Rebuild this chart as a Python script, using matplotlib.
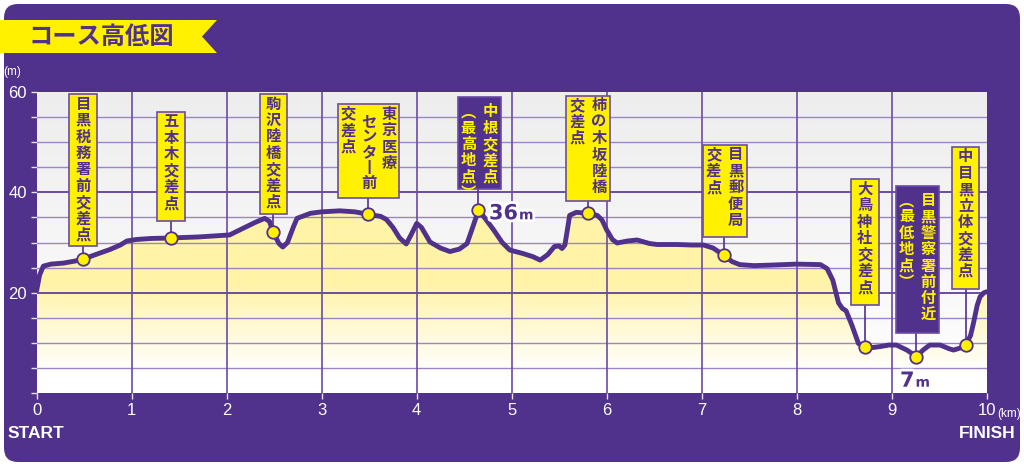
import numpy as np
import matplotlib
matplotlib.use("Agg")
import matplotlib.pyplot as plt
from matplotlib.patches import Polygon, Rectangle, FancyBboxPatch
import matplotlib.patheffects as pe

plt.rcParams['font.family'] = ['Noto Sans CJK JP', 'DejaVu Sans']

# ---------------- data ----------------
course_km = [0.00, 0.03, 0.07, 0.15, 0.28, 0.40, 0.49, 0.65, 0.77, 0.88, 0.95, 1.05, 1.20, 1.41,
             1.70, 2.03, 2.17, 2.30, 2.40, 2.45, 2.49, 2.55, 2.59, 2.64, 2.70, 2.74, 2.88, 3.00,
             3.19, 3.35, 3.49, 3.62, 3.68, 3.75, 3.82, 3.89, 3.94, 4.00, 4.05, 4.14, 4.25, 4.35,
             4.45, 4.53, 4.58, 4.65, 4.72, 4.81, 4.90, 4.98, 5.12, 5.22, 5.30, 5.38, 5.45, 5.50,
             5.53, 5.56, 5.59, 5.61, 5.68, 5.80, 5.90, 5.95, 6.00, 6.06, 6.11, 6.22, 6.32, 6.45,
             6.53, 6.74, 6.90, 7.02, 7.12, 7.23, 7.32, 7.40, 7.55, 7.72, 8.00, 8.25, 8.32, 8.38,
             8.44, 8.48, 8.52, 8.58, 8.65, 8.72, 8.80, 8.88, 8.97, 9.05, 9.16, 9.26, 9.33, 9.40,
             9.51, 9.60, 9.65, 9.72, 9.78, 9.83, 9.86, 9.90, 9.93, 9.97, 10.00]
course_elev = [20.5, 23.5, 25.3, 25.7, 25.9, 26.3, 26.7, 27.8, 28.6, 29.5, 30.3, 30.6, 30.8, 30.9,
               31.1, 31.5, 32.8, 34.0, 34.8, 34.2, 32.0, 29.8, 29.1, 30.0, 33.0, 34.8, 35.8, 36.1,
               36.3, 36.1, 35.6, 35.2, 34.6, 33.0, 30.9, 29.7, 31.5, 33.8, 33.0, 30.1, 28.9, 28.2,
               28.7, 29.8, 32.5, 36.4, 34.8, 32.5, 30.0, 28.5, 27.8, 27.2, 26.5, 27.6, 29.2, 29.3,
               28.8, 29.5, 33.0, 35.4, 36.0, 35.8, 35.4, 34.5, 32.5, 30.6, 29.9, 30.3, 30.5, 29.8,
               29.6, 29.6, 29.5, 29.5, 28.9, 27.5, 26.2, 25.6, 25.4, 25.5, 25.7, 25.6, 24.8, 22.5,
               18.0, 16.9, 16.4, 13.6, 9.9, 9.3, 9.1, 9.3, 9.6, 9.6, 8.6, 7.3, 8.6, 9.6,
               9.6, 8.9, 8.6, 9.0, 9.7, 11.5, 13.9, 17.5, 19.2, 20.0, 20.2]

spot_km = [0.49, 1.41, 2.49, 3.49, 4.65, 5.80, 7.23, 8.72, 9.26, 9.78]
spot_elev = [26.7, 30.9, 32.0, 35.6, 36.4, 35.8, 27.5, 9.3, 7.3, 9.7]
spot_names = [
    ["目黒税務署前交差点"],
    ["五本木交差点"],
    ["駒沢陸橋交差点"],
    ["東京医療", "センタ丨前", "交差点"],
    ["中根交差点", "︵最高地点︶"],
    ["柿の木坂陸橋", "交差点"],
    ["目黒郵便局", "交差点"],
    ["大鳥神社交差点"],
    ["目黒警察署前付近", "︵最低地点︶"],
    ["中目黒立体交差点"],
]
spot_special = [False, False, False, False, True, False, False, False, True, False]

high_label = "36"
low_label = "7"
y_tick_labels = {60: "60", 40: "40", 20: "20"}
x_tick_labels = [str(i) for i in range(11)]
title = "コース高低図"

# ---------------- layout (pixels of the 1024x466 picture) ----------------
W, H = 1024, 466
AX_L, AX_R, AX_T, AX_B = 36.7, 986.7, 91.7, 393.3
box_px = [(69, 97.3, 94, 245.7), (157.3, 185, 111.7, 221), (260, 287.3, 94, 214),
          (338.3, 399.3, 104.3, 197.7), (457.7, 500.7, 97.3, 189.3), (566, 610, 95.7, 200.7),
          (702.7, 746.7, 145, 237.3), (851, 878.7, 179.3, 305), (895.7, 939, 186, 332.7),
          (951.7, 979.3, 146.7, 289)]
# per-column (extra top offset px, char step px) where different from default
col_tweak = {(3, 1): (7, 15.6)}

PURPLE = '#50318b'
YELLOW = '#fff100'

fig = plt.figure(figsize=(W / 100, H / 100), dpi=100)
fig.patch.set_facecolor('white')

bg = FancyBboxPatch((4 / 100, 4 / 100), 1016 / 100, 458 / 100,
                    boxstyle='round,pad=0,rounding_size=0.14',
                    transform=fig.dpi_scale_trans, fc=PURPLE, ec='none', zorder=0)
fig.add_artist(bg)

banner_px = [(0, 20), (217, 20), (202, 36.5), (217, 53), (0, 53)]
banner = Polygon([(x / W, 1 - y / H) for x, y in banner_px], closed=True,
                 transform=fig.transFigure, fc=YELLOW, ec='none')
fig.add_artist(banner)
fig.text(101 / W, 1 - 37 / H, title, ha='center', va='center', fontsize=17.5,
         weight='bold', color=PURPLE)

ax = fig.add_axes([AX_L / W, 1 - AX_B / H, (AX_R - AX_L) / W, (AX_B - AX_T) / H])
ax.set_xlim(0, 10)
ax.set_ylim(0, 60)
for s in ax.spines.values():
    s.set_visible(False)
ax.set_facecolor('white')


def pxk(x):
    return (x - AX_L) / (AX_R - AX_L) * 10


def pym(y):
    return (AX_B - y) / (AX_B - AX_T) * 60


# background gradient (grey at top -> white)
n = 256
t = np.linspace(0, 1, n)[:, None]
top = np.array([0.93, 0.93, 0.935])
grad = (np.array([1, 1, 1]) * (1 - t) + top * t)[:, None, :]
ax.imshow(grad, extent=[0, 10, 0, 60], origin='lower', aspect='auto', zorder=0)

# yellow fill gradient clipped by profile
ys = np.linspace(0, 60, n)
f = np.clip((ys - 4) / (22 - 4), 0, 1)[:, None]
ycol = np.array([1.0, 0.953, 0.66])
ygrad = (np.array([1, 1, 1]) * (1 - f) + ycol * f)[:, None, :]
im = ax.imshow(ygrad, extent=[0, 10, 0, 60], origin='lower', aspect='auto', zorder=1)
poly = Polygon(list(zip(course_km, course_elev)) + [(10, 0), (0, 0)], closed=True,
               transform=ax.transData, fc='none', ec='none')
ax.add_patch(poly)
im.set_clip_path(poly)

# grid
for yv in range(5, 60, 5):
    if yv % 20 == 0:
        ax.axhline(yv, color='#5e3f9c', lw=1.3, zorder=2)
    else:
        ax.axhline(yv, color='#9a86c6', lw=1.0, zorder=2)
for xv in range(1, 10):
    ax.axvline(xv, color='#6a4ca6', lw=1.2, zorder=2)

# profile
ax.plot(course_km, course_elev, color=PURPLE, lw=3.5, solid_capstyle='round',
        solid_joinstyle='round', zorder=5)

# labels
step = 16.4
for i, (k, e) in enumerate(zip(spot_km, spot_elev)):
    l, r, tp, bt = box_px[i]
    special = spot_special[i]
    fc = PURPLE if special else YELLOW
    tc = YELLOW if special else PURPLE
    ax.plot([k, k], [e, pym(bt)], color=PURPLE, lw=1.2, zorder=4)
    ax.add_patch(Rectangle((pxk(l), pym(bt)), pxk(r) - pxk(l), pym(tp) - pym(bt),
                           fc=fc, ec='#6a4ca6', lw=1.2, zorder=6))
    cols = spot_names[i]
    nc = len(cols)
    wbox = r - l
    off0 = 14 if special else 9.5
    for j, col in enumerate(cols):
        cx = r - wbox * (j + 0.5) / nc
        extra, st = col_tweak.get((i, j), (0, step))
        for m, ch in enumerate(col):
            cy = tp + off0 + extra + st * m
            ax.text(pxk(cx), pym(cy), ch, ha='center', va='center', fontsize=11,
                    weight='bold', color=tc, zorder=8)

ax.plot(spot_km, spot_elev, 'o', ms=9, mfc=YELLOW, mec=PURPLE, mew=1.3, zorder=7)

# high / low annotations
halo = [pe.withStroke(linewidth=4, foreground='white')]
ax.text(pxk(489), pym(219.3), high_label, ha='left', va='baseline', fontsize=15,
        weight='bold', color=PURPLE, family='DejaVu Sans', path_effects=halo, zorder=9)
ax.text(pxk(519), pym(219.3), "m", ha='left', va='baseline', fontsize=10,
        weight='bold', color=PURPLE, family='DejaVu Sans', path_effects=halo, zorder=9)
ax.text(pxk(900), pym(386.7), low_label, ha='left', va='baseline', fontsize=15,
        weight='bold', color=PURPLE, family='DejaVu Sans', path_effects=halo, zorder=9)
ax.text(pxk(915.5), pym(386.7), "m", ha='left', va='baseline', fontsize=10,
        weight='bold', color=PURPLE, family='DejaVu Sans', path_effects=halo, zorder=9)

# ticks
ax.set_yticks(range(0, 61, 5))
ax.set_yticklabels([y_tick_labels.get(v, "") for v in range(0, 61, 5)])
ax.set_xticks(range(11))
ax.set_xticklabels(x_tick_labels)
ax.tick_params(axis='both', colors='#e6e1f0', length=4, width=1, labelcolor='white',
               labelsize=12, pad=3)
for lab in ax.get_xticklabels() + ax.get_yticklabels():
    lab.set_family('Liberation Sans')

fig.text(11.7 / W, 1 - 72 / H, "(m)", ha='center', va='center', fontsize=8.5,
         color='white', family='Liberation Sans')
fig.text(1009 / W, 1 - 414 / H, "(km)", ha='center', va='center', fontsize=8.5,
         color='white', family='Liberation Sans')
fig.text(36 / W, 1 - 434 / H, "START", ha='center', va='center', fontsize=12.5,
         color='white', weight='bold', family='Liberation Sans')
fig.text(986.7 / W, 1 - 434 / H, "FINISH", ha='center', va='center', fontsize=12.5,
         color='white', weight='bold', family='Liberation Sans')

fig.savefig('out.png', dpi=100, facecolor='white')
